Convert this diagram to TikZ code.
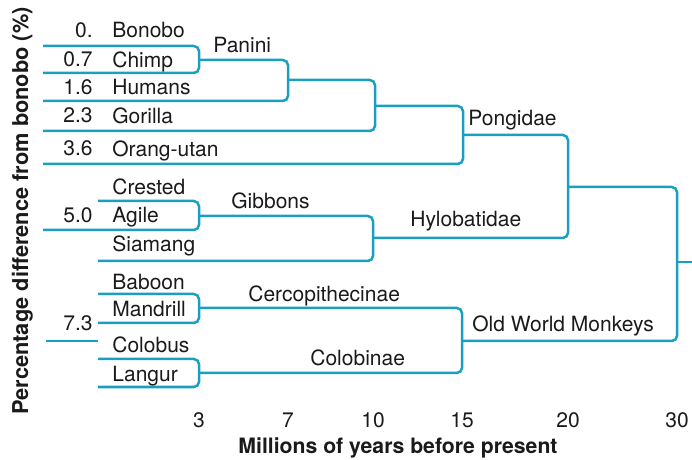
\documentclass[tikz,border=0pt]{standalone}
\usepackage{fontspec}
\setmainfont{TeX Gyre Heros}
\definecolor{branch}{HTML}{1B9FC1}
\definecolor{ink}{HTML}{1A1A1A}

\begin{document}
\begin{tikzpicture}[
  x=0.5pt, y=-0.5pt, font=\fontsize{10.5}{12.6}\selectfont, text=ink,
  clade/.style={draw=branch, line width=1.25pt, rounded corners=2.6pt},
  taxon/.style={anchor=base west, inner sep=0pt},
  pct/.style={anchor=base east, inner sep=0pt},
  group/.style={anchor=base west, inner sep=0pt},
  tick/.style={anchor=base, inner sep=0pt},
  axis/.style={anchor=base, inner sep=0pt, font=\fontsize{10.6}{12.6}\selectfont\bfseries}]
\useasboundingbox (0,0) rectangle (692,460);
% ---------------- leaf ends (px, y down)
\coordinate (bonobo)   at (43,46);
\coordinate (chimp)    at (43,73);
\coordinate (humans)   at (43,101);
\coordinate (gorilla)  at (43,131);
\coordinate (orang)    at (43,164);
\coordinate (crested)  at (98,201);
\coordinate (agile)    at (43,230);
\coordinate (siamang)  at (98,261);
\coordinate (baboon)   at (98,294);
\coordinate (mandrill) at (98,323);
\coordinate (colobus)  at (98,359);
\coordinate (langur)   at (98,387);
\coordinate (stubL)    at (46,341);
\coordinate (stubR)    at (98,341);
% ---------------- joins
\coordinate (panini)   at (199,60);
\coordinate (homo)     at (288,80);
\coordinate (homi)     at (375,106);
\coordinate (pongidae) at (463,135);
\coordinate (gibbons)  at (199,216);
\coordinate (hylo)     at (373,238);
\coordinate (apes)     at (568,187);
\coordinate (cerco)    at (199,308);
\coordinate (colob)    at (199,373);
\coordinate (owm)      at (462,341);
\coordinate (root)     at (677,262);
\coordinate (rootR)    at (692,262);
% ---------------- branches
\draw[clade] (bonobo) -| (panini) |- (chimp);
\draw[clade] (panini) -| (homo) |- (humans);
\draw[clade] (homo) -| (homi) |- (gorilla);
\draw[clade] (homi) -| (pongidae) |- (orang);
\draw[clade] (crested) -| (gibbons) |- (agile);
\draw[clade] (gibbons) -| (hylo) |- (siamang);
\draw[clade] (pongidae) -| (apes) |- (hylo);
\draw[clade] (baboon) -| (cerco) |- (mandrill);
\draw[clade] (colobus) -| (colob) |- (langur);
\draw[clade] (cerco) -| (owm) |- (colob);
\draw[clade] (apes) -| (root) |- (owm);
\draw[clade] (root) -- (rootR);
\draw[clade] (stubL) -- (stubR);
% ---------------- taxa and percentages
\node[taxon] (tBonobo)   at (112,38)  {Bonobo};
\node[taxon] (tChimp)    at (112,68)  {Chimp};
\node[taxon] (tHumans)   at (112,95)  {Humans};
\node[taxon] (tGorilla)  at (112,124) {Gorilla};
\node[taxon] (tOrang)    at (112,157) {Orang-utan};
\node[taxon] (tCrested)  at (112,195) {Crested};
\node[taxon] (tAgile)    at (112,223) {Agile};
\node[taxon] (tSiamang)  at (112,252) {Siamang};
\node[taxon] (tBaboon)   at (112,290) {Baboon};
\node[taxon] (tMandrill) at (112,316) {Mandrill};
\node[taxon] (tColobus)  at (112,352) {Colobus};
\node[taxon] (tLangur)   at (112,381) {Langur};
\node[pct] (p1) at (93,38)  {0.};
\node[pct] (p2) at (93,67)  {0.7};
\node[pct] (p3) at (93,95)  {1.6};
\node[pct] (p4) at (93,123) {2.3};
\node[pct] (p5) at (93,156) {3.6};
\node[pct] (p6) at (93,223) {5.0};
\node[pct] (p7) at (93,330) {7.3};
% ---------------- clade names
\node[group] (gPanini) at (213,53)  {Panini};
\node[group] (gGibb)   at (231,209) {Gibbons};
\node[group] (gCerco)  at (248,302) {Cercopithecinae};
\node[group] (gColob)  at (310,365) {Colobinae};
\node[group] (gPong)   at (468,126) {Pongidae};
\node[group] (gHylo)   at (410,227) {Hylobatidae};
\node[group] (gOWM)    at (472,332) {Old World Monkeys};
% ---------------- axes
\foreach \t/\x in {3/199, 7/288, 10/373, 15/462, 20/568, 30/677}
  \node[tick] (tick\t) at (\x,428) {\t};
\node[axis] (xlab) at (398,453) {Millions of years before present};
\node[axis, rotate=90, font=\fontsize{10.9}{13}\selectfont\bfseries] (ylab) at (28,211) {Percentage difference from bonobo (\%)};
\end{tikzpicture}
\end{document}
